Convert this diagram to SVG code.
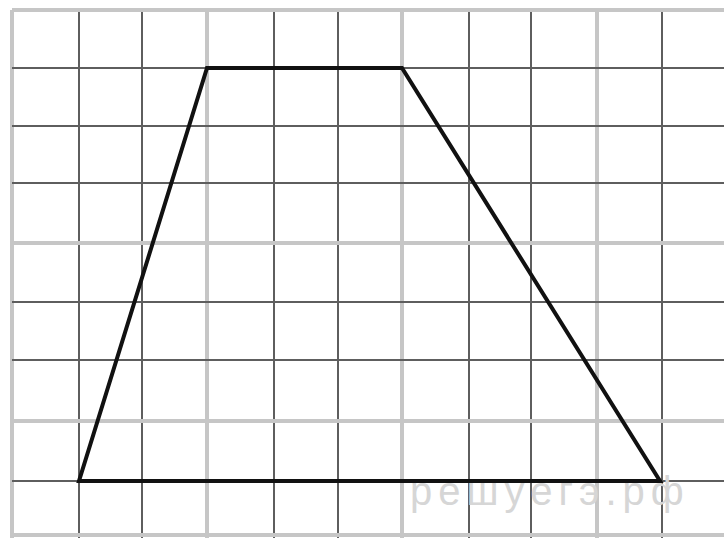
<svg xmlns="http://www.w3.org/2000/svg" width="724" height="538" viewBox="0 0 724 538">
<style>
.d{stroke:#5e5e5e;stroke-width:2}
.l{stroke:#c6c6c6;stroke-width:4}
.wm{font-family:"Liberation Sans",Arial,sans-serif;font-size:40px;letter-spacing:6px;fill:#d6d6d6}
</style>
<rect width="724" height="538" fill="#ffffff"/>
<g id="grid">
<line class="l" x1="12" y1="10" x2="12" y2="538"/>
<line class="d" x1="79" y1="10" x2="79" y2="538"/>
<line class="d" x1="142" y1="10" x2="142" y2="538"/>
<line class="l" x1="207" y1="10" x2="207" y2="538"/>
<line class="d" x1="274" y1="10" x2="274" y2="538"/>
<line class="d" x1="338" y1="10" x2="338" y2="538"/>
<line class="l" x1="402" y1="10" x2="402" y2="538"/>
<line class="d" x1="469" y1="10" x2="469" y2="538"/>
<line class="d" x1="531" y1="10" x2="531" y2="538"/>
<line class="l" x1="597" y1="10" x2="597" y2="538"/>
<line class="d" x1="662" y1="10" x2="662" y2="538"/>
<line class="l" x1="12" y1="10" x2="724" y2="10"/>
<line class="d" x1="12" y1="68" x2="724" y2="68"/>
<line class="d" x1="12" y1="126" x2="724" y2="126"/>
<line class="d" x1="12" y1="183" x2="724" y2="183"/>
<line class="l" x1="12" y1="243" x2="724" y2="243"/>
<line class="d" x1="12" y1="302" x2="724" y2="302"/>
<line class="d" x1="12" y1="360" x2="724" y2="360"/>
<line class="l" x1="12" y1="421" x2="724" y2="421"/>
<line class="d" x1="12" y1="481" x2="724" y2="481"/>
<line class="l" x1="12" y1="535" x2="724" y2="535"/>
</g>
<g id="trapezoid">
<polygon points="207,68 402,68 660,481 79,481" fill="none" stroke="#111111" stroke-width="4" stroke-linejoin="miter"/>
</g>
<text class="wm" x="410" y="505">решуегэ.рф</text>
</svg>
